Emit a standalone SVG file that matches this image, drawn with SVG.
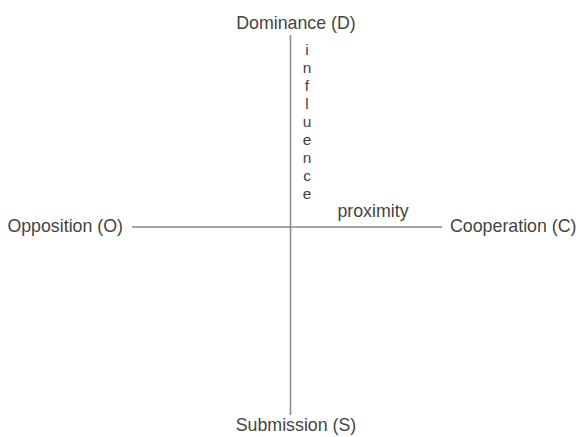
<svg xmlns="http://www.w3.org/2000/svg" width="578" height="437" viewBox="0 0 578 437">
<style>
text{font-family:"Liberation Sans",Arial,sans-serif;font-size:17.8px;fill:#444}
.axis{stroke:#888;stroke-width:1.5;fill:none}
.v{font-size:15.5px}
</style>
<rect width="578" height="437" fill="#fff"/>
<g id="connectors">
<line class="axis" x1="290.5" y1="35" x2="290.5" y2="415"/>
<line class="axis" x1="132" y1="227" x2="442" y2="227"/>
</g>
<g id="node-dominance"><text x="296" y="29" text-anchor="middle">Dominance (D)</text></g>
<g id="node-submission"><text x="296" y="431" text-anchor="middle">Submission (S)</text></g>
<g id="node-opposition"><text x="123" y="232" text-anchor="end">Opposition (O)</text></g>
<g id="node-cooperation"><text x="450" y="232">Cooperation (C)</text></g>
<g id="label-influence">
<text class="v" x="307" text-anchor="middle"><tspan x="307" y="55">i</tspan><tspan x="307" y="73">n</tspan><tspan x="307" y="91">f</tspan><tspan x="307" y="109">l</tspan><tspan x="307" y="127">u</tspan><tspan x="307" y="145">e</tspan><tspan x="307" y="163">n</tspan><tspan x="307" y="181">c</tspan><tspan x="307" y="199">e</tspan></text>
</g>
<g id="label-proximity"><text x="373" y="217" text-anchor="middle">proximity</text></g>
</svg>
